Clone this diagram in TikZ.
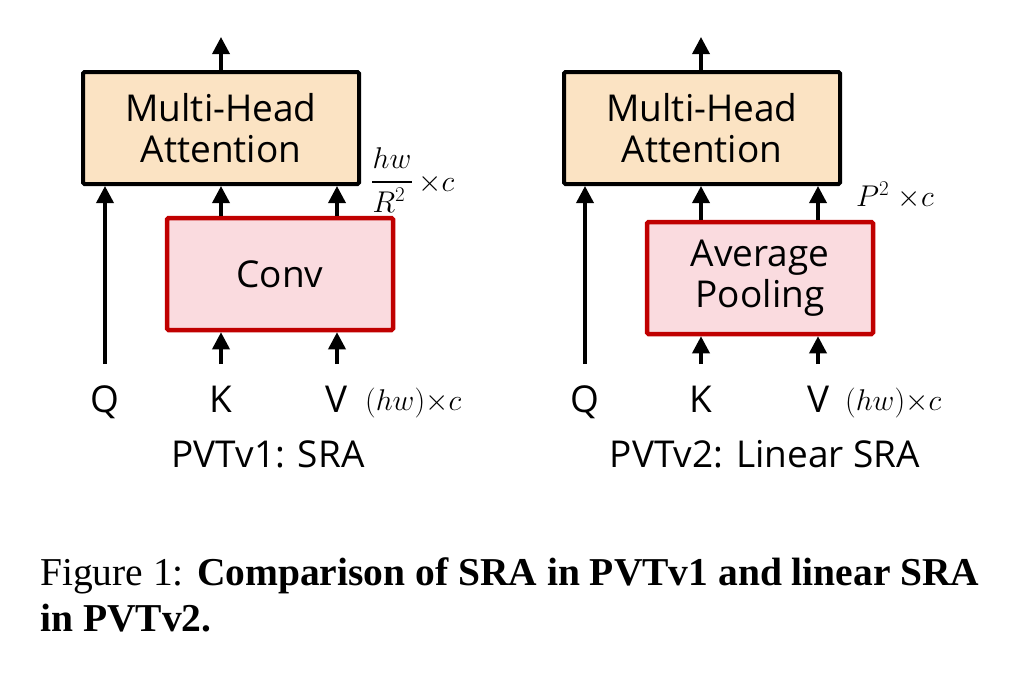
\RequirePackage{fix-cm}
\documentclass[tikz,border=0pt]{standalone}
\usepackage{fontspec}
\setmainfont{Liberation Serif}
\newfontfamily\diafont{Open Sans}
\usetikzlibrary{arrows.meta}
\definecolor{peach}{HTML}{FBE3C3}
\definecolor{pinkfill}{HTML}{FADBDF}
\definecolor{darkred}{HTML}{C00000}
\tikzset{
  mha/.style={draw=black, line width=4pt, fill=peach, rounded corners=1.5pt, minimum width=276pt, minimum height=112pt, inner sep=0pt, align=center, font=\diafont\fontsize{37}{41}\selectfont},
  redbox/.style={draw=darkred, line width=4.5pt, fill=pinkfill, rounded corners=1.5pt, minimum width=226pt, minimum height=112pt, inner sep=0pt, align=center, font=\diafont\fontsize{37}{41}\selectfont},
  arr/.style={line width=3.5pt, -{Triangle[length=17pt,width=17pt]}},
  lbl/.style={font=\diafont\fontsize{37}{41}\selectfont, inner sep=0pt},
  mlbl/.style={font=\fontsize{30}{34}\selectfont, inner sep=0pt},
  fracbar/.style={line width=2.5pt},
  captext/.style={font=\fontsize{39.5}{46}\selectfont, inner sep=0pt, anchor=base west}
}
\begin{document}
\begin{tikzpicture}[x=1pt,y=-1pt]
\useasboundingbox (0,0) rectangle (1011,673);
% left diagram
\node[mha] (mhaL) at (221,128) {Multi-Head\\Attention};
\node[redbox] (convL) at (280,274) {Conv};
\coordinate (outL) at (221,37);
\node[lbl, anchor=base] (qL) at (105,412) {Q};
\node[lbl, anchor=base] (kL) at (221,412) {K};
\node[lbl, anchor=base] (vL) at (337,412) {V};
\coordinate (qLs) at (105,364);
\coordinate (kLs) at (221,364);
\coordinate (vLs) at (337,364);
\draw[arr] (mhaL.north) -- (outL);
\draw[arr] (qLs) -- (qLs |- mhaL.south);
\draw[arr] (kLs) -- (kLs |- convL.south);
\draw[arr] (vLs) -- (vLs |- convL.south);
\draw[arr] (kLs |- convL.north) -- (kLs |- mhaL.south);
\draw[arr] (vLs |- convL.north) -- (vLs |- mhaL.south);
% hw / R^2 x c
\node[mlbl, anchor=base] (numL) at (392,168) {$hw$};
\node[mlbl, anchor=base] (denL) at (389,212) {$R^2$};
\coordinate (barA) at (372,182);
\coordinate (barB) at (412,182);
\draw[fracbar] (barA) -- (barB);
\node[mlbl, anchor=west] (timesL) at (418,184) {${\times}c$};
\node[mlbl, anchor=base west] (dimL2) at (365,410) {$(hw){\times}c$};
\node[lbl, anchor=base] (titleL) at (268,467) {PVTv1: SRA};
% right diagram
\node[mha] (mhaR) at (702,128) {Multi-Head\\Attention};
\node[redbox] (poolR) at (760,278) {Average\\Pooling};
\coordinate (outR) at (701,37);
\node[lbl, anchor=base] (qR) at (585,412) {Q};
\node[lbl, anchor=base] (kR) at (701,412) {K};
\node[lbl, anchor=base] (vR) at (818,412) {V};
\coordinate (qRs) at (585,364);
\coordinate (kRs) at (701,364);
\coordinate (vRs) at (818,364);
\draw[arr] (outR |- mhaR.north) -- (outR);
\draw[arr] (qRs) -- (qRs |- mhaR.south);
\draw[arr] (kRs) -- (kRs |- poolR.south);
\draw[arr] (vRs) -- (vRs |- poolR.south);
\draw[arr] (kRs |- poolR.north) -- (kRs |- mhaR.south);
\draw[arr] (vRs |- poolR.north) -- (vRs |- mhaR.south);
\node[mlbl, anchor=base west] (dimR1) at (856,206) {$P^2\;{\times}c$};
\node[mlbl, anchor=base west] (dimR2) at (845,410) {$(hw){\times}c$};
\node[lbl, anchor=base] (titleR) at (765,467) {PVTv2: Linear SRA};
% caption
\node[captext] (cap1) at (40,585) {Figure 1: \textbf{Comparison of SRA in PVTv1 and linear SRA}};
\node[captext] (cap2) at (40,631) {\textbf{in PVTv2.}};
\end{tikzpicture}
\end{document}
